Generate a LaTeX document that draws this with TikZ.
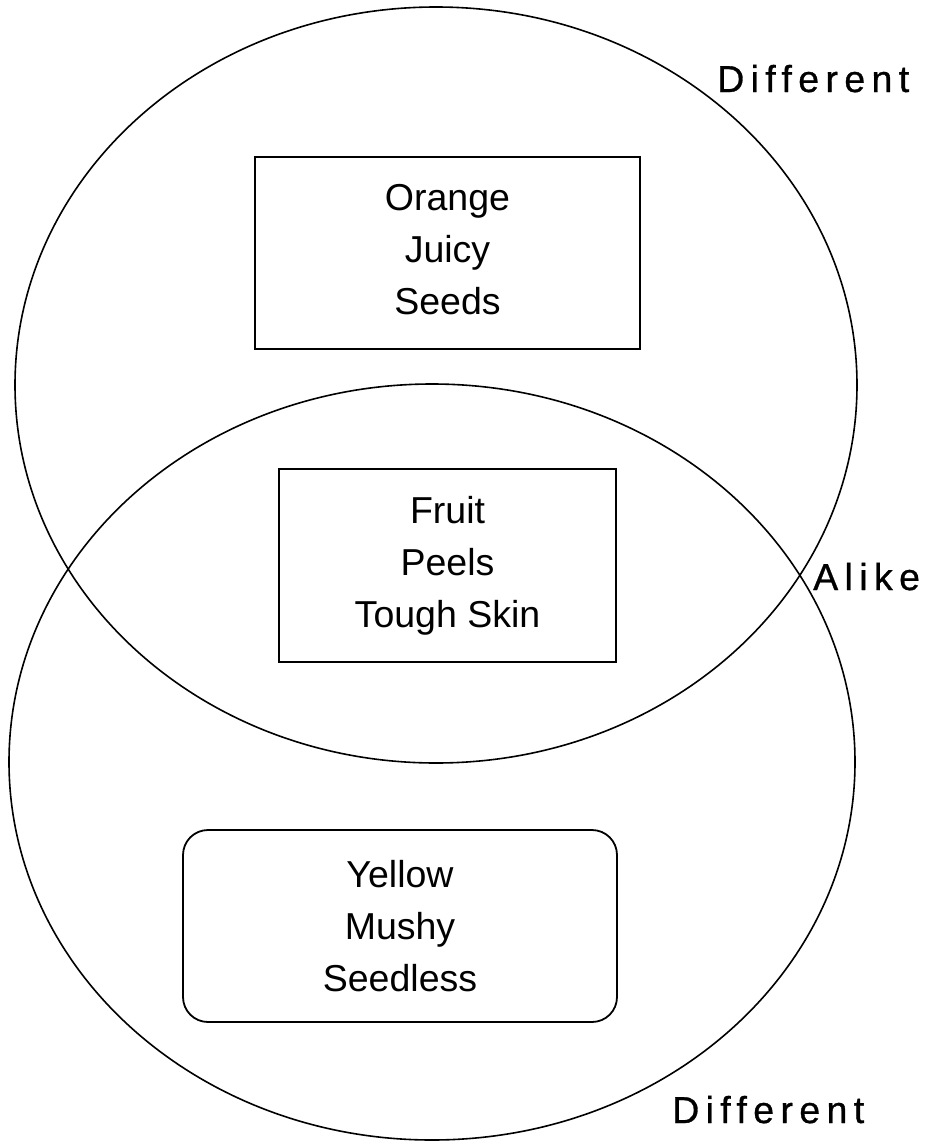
\documentclass[tikz,border=0pt]{standalone}
\usepackage{fontspec}
\setmainfont{Liberation Sans}
\newfontfamily\lblfont[LetterSpace=17,FakeBold=0.8]{Liberation Sans}
\usetikzlibrary{shapes.geometric}
\begin{document}
\begin{tikzpicture}[x=1pt,y=-1pt,
  ring/.style={draw, ellipse, line width=1.6pt, inner sep=0pt},
  box/.style={draw, line width=1.8pt, align=center, inner sep=0pt,
    font=\fontsize{37.5}{51.8}\selectfont},
  lbl/.style={inner sep=0pt, anchor=base west,
    font=\lblfont\fontsize{37.5}{40}\selectfont}]
\useasboundingbox (0,0) rectangle (926,1143);
% circles
\node[ring, minimum width=842pt, minimum height=756pt] (upper) at (436,385) {};
\node[ring, minimum width=846pt, minimum height=756pt] (lower) at (432,762) {};
% boxes
\node[box, minimum width=385pt, minimum height=192pt] (orange) at (447.5,253)
  {Orange\\Juicy\\Seeds\vphantom{g}};
\node[box, minimum width=337pt, minimum height=193pt] (alike) at (447.5,565.5)
  {Fruit\\Peels\\Tough Skin};
\node[box, rounded corners=25pt, minimum width=434pt, minimum height=192pt] (banana) at (400,926)
  {Yellow\\Mushy\\Seedless};
% labels
\node[lbl] (diff1) at (717,92) {Different};
\node[lbl] (alikelbl) at (813,590) {Alike};
\node[lbl] (diff2) at (672,1123) {Different};
\end{tikzpicture}
\end{document}
